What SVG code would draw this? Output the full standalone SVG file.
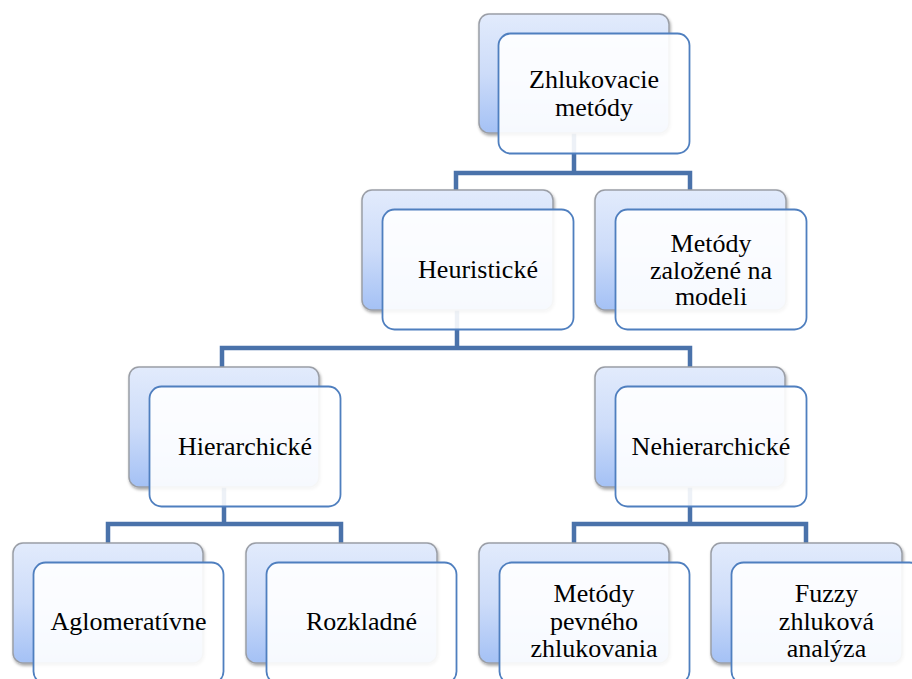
<svg xmlns="http://www.w3.org/2000/svg" width="912" height="679" viewBox="0 0 912 679">
<defs>
<linearGradient id="bg" x1="0" y1="0" x2="0" y2="1">
<stop offset="0" stop-color="#e2ebfc"/>
<stop offset="0.5" stop-color="#cddcf9"/>
<stop offset="1" stop-color="#a4c1f5"/>
</linearGradient>
<filter id="sh" x="-10%" y="-10%" width="125%" height="130%">
<feDropShadow dx="1" dy="2" stdDeviation="1.6" flood-color="#000" flood-opacity="0.35"/>
</filter>
</defs>
<style>
.back{fill:url(#bg);stroke:#9a9ea6;stroke-width:1.5;filter:url(#sh)}
.front{fill:#ffffff;fill-opacity:0.9;stroke:#4f7fbf;stroke-width:1.8}
.lbl{font-family:"Liberation Serif","Times New Roman",serif;font-size:26px;fill:#000;text-anchor:middle}
.con{fill:none;stroke:#4a72aa;stroke-width:4.5;stroke-linejoin:miter;stroke-linecap:butt}
</style>
<rect width="912" height="679" fill="#ffffff"/>
<g id="connectors">
<path class="con" d="M574 133 V173 M456 190 V173 H690 V190"/>
<path class="con" d="M457 310 V348 M222 367 V348 H690 V367"/>
<path class="con" d="M224 487 V524 M108 543 V524 H341 V543"/>
<path class="con" d="M690 487 V524 M574 543 V524 H806 V543"/>
</g>
<g id="n-zhlukovacie">
<rect class="back" x="479" y="14" width="190" height="119" rx="10"/>
<rect class="front" x="498.5" y="33.5" width="191" height="120" rx="12"/>
<text class="lbl" x="594" y="88">Zhlukovacie</text>
<text class="lbl" x="594" y="116">metódy</text>
</g>
<g id="n-heuristicke">
<rect class="back" x="362" y="190" width="191" height="120" rx="10"/>
<rect class="front" x="382.5" y="209.5" width="191" height="120" rx="12"/>
<text class="lbl" x="478" y="278">Heuristické</text>
</g>
<g id="n-modeli">
<rect class="back" x="595" y="190" width="191" height="120" rx="10"/>
<rect class="front" x="615.5" y="209.5" width="191" height="120" rx="12"/>
<text class="lbl" x="711" y="252">Metódy</text>
<text class="lbl" x="711" y="278.5">založené na</text>
<text class="lbl" x="711" y="305">modeli</text>
</g>
<g id="n-hierarchicke">
<rect class="back" x="129" y="367" width="190" height="120" rx="10"/>
<rect class="front" x="149.5" y="386.5" width="191" height="120" rx="12"/>
<text class="lbl" x="245" y="455">Hierarchické</text>
</g>
<g id="n-nehierarchicke">
<rect class="back" x="595" y="367" width="190" height="120" rx="10"/>
<rect class="front" x="615.5" y="386.5" width="191" height="120" rx="12"/>
<text class="lbl" x="711" y="455">Nehierarchické</text>
</g>
<g id="n-aglomerativne">
<rect class="back" x="13" y="543" width="190" height="120" rx="10"/>
<rect class="front" x="33.5" y="562.5" width="190" height="121" rx="12"/>
<text class="lbl" x="128.5" y="630">Aglomeratívne</text>
</g>
<g id="n-rozkladne">
<rect class="back" x="246" y="543" width="191" height="120" rx="10"/>
<rect class="front" x="266.5" y="562.5" width="190" height="121" rx="12"/>
<text class="lbl" x="361.5" y="630">Rozkladné</text>
</g>
<g id="n-pevneho">
<rect class="back" x="479" y="543" width="190" height="120" rx="10"/>
<rect class="front" x="499.5" y="562.5" width="190" height="121" rx="12"/>
<text class="lbl" x="594" y="602">Metódy</text>
<text class="lbl" x="594" y="630">pevného</text>
<text class="lbl" x="594" y="657">zhlukovania</text>
</g>
<g id="n-fuzzy">
<rect class="back" x="711" y="543" width="191" height="120" rx="10"/>
<rect class="front" x="731.5" y="562.5" width="190" height="121" rx="12"/>
<text class="lbl" x="826.5" y="602">Fuzzy</text>
<text class="lbl" x="826.5" y="630">zhluková</text>
<text class="lbl" x="826.5" y="657">analýza</text>
</g>
</svg>
